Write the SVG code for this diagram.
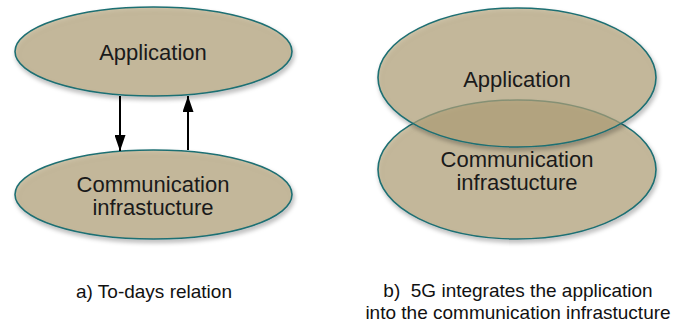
<svg xmlns="http://www.w3.org/2000/svg" width="684" height="324" viewBox="0 0 684 324">
<defs>
<filter id="sh" x="-10%" y="-10%" width="125%" height="130%">
<feDropShadow dx="1.5" dy="3" stdDeviation="2" flood-color="#000" flood-opacity="0.35"/>
</filter>
<marker id="ah" viewBox="0 0 16 11" refX="16" refY="5.5" markerWidth="16" markerHeight="11" markerUnits="userSpaceOnUse" orient="auto">
<path d="M0,0 L16,5.5 L0,11 z" fill="#000"/>
</marker>
</defs>
<style>
.el{fill:#B5A57B;fill-opacity:0.65;stroke:#1F6F73;stroke-width:1.6;}
.nt{font-family:"Liberation Sans",Arial,Helvetica,sans-serif;font-size:22px;fill:#1a1a1a;text-anchor:middle;}
.cap{font-family:"Liberation Sans",Arial,Helvetica,sans-serif;font-size:19px;fill:#111;text-anchor:middle;}
.ar{stroke:#000;stroke-width:2;fill:none;marker-end:url(#ah);}
</style>
<rect width="684" height="324" fill="#fff"/>
<g id="left-application">
<ellipse class="el" cx="153.5" cy="51.5" rx="138.5" ry="44.5" filter="url(#sh)"/>
<text class="nt" x="153" y="60">Application</text>
</g>
<g id="left-communication">
<ellipse class="el" cx="153.5" cy="194.5" rx="138.5" ry="44.5" filter="url(#sh)"/>
<text class="nt" x="153" y="192">Communication</text>
<text class="nt" x="153" y="215">infrastucture</text>
</g>
<g id="connectors">
<line class="ar" x1="120" y1="96" x2="120" y2="151"/>
<line class="ar" x1="188" y1="150" x2="188" y2="96"/>
</g>
<g id="right-communication">
<ellipse class="el" cx="517" cy="169.5" rx="139" ry="69.5" filter="url(#sh)"/>
<text class="nt" x="517" y="167">Communication</text>
<text class="nt" x="517" y="190">infrastucture</text>
</g>
<g id="right-application">
<ellipse class="el" cx="517" cy="77.5" rx="139" ry="69.5" filter="url(#sh)"/>
<text class="nt" x="517" y="87">Application</text>
</g>
<g id="captions">
<text class="cap" x="154" y="298">a) To-days relation</text>
<text class="cap" x="518" y="297" xml:space="preserve">b)  5G integrates the application</text>
<text class="cap" x="518" y="319">into the communication infrastucture</text>
</g>
</svg>
